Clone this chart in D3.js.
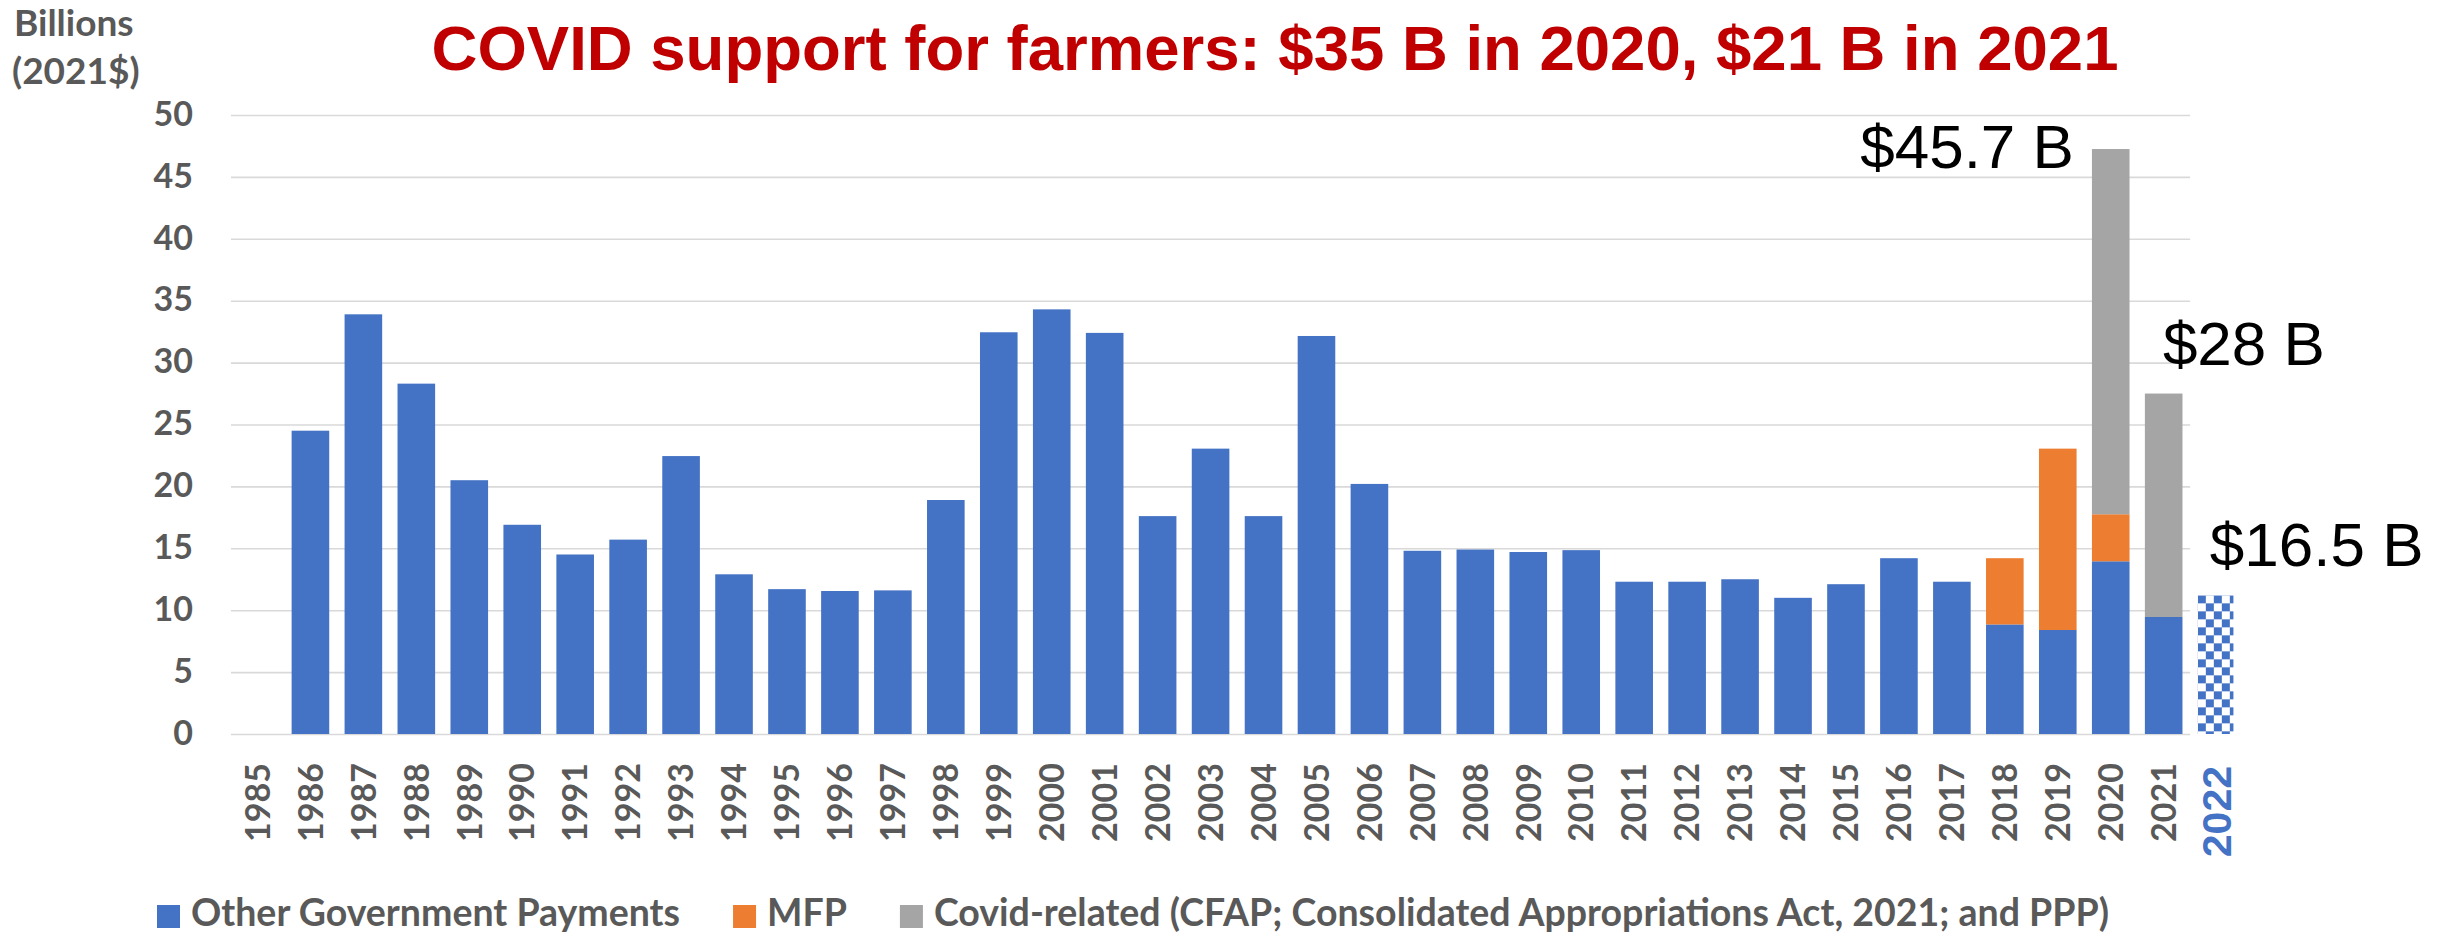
<!DOCTYPE html>
<html>
<head>
<meta charset="utf-8">
<script src="https://cdn.jsdelivr.net/npm/d3@7"></script>
<style>
  body { margin: 0; background: #fff; }
  svg text { font-family: Lato, "Open Sans", sans-serif; }
  svg text.arial { font-family: "Liberation Sans", Arial, sans-serif; }
</style>
</head>
<body>
<div id="chart"></div>
<script>
// categories on the axis (2022 is drawn as a separate projected bar)
const years = ["1985", "1986", "1987", "1988", "1989", "1990", "1991", "1992", "1993", "1994",
  "1995", "1996", "1997", "1998", "1999", "2000", "2001", "2002", "2003", "2004", "2005",
  "2006", "2007", "2008", "2009", "2010", "2011", "2012", "2013", "2014", "2015", "2016",
  "2017", "2018", "2019", "2020", "2021"];

// billions of 2021 dollars
const otherPayments = [0, 24.5, 33.9, 28.3, 20.5, 16.9, 14.5, 15.7, 22.45, 12.9,
  11.7, 11.55, 11.6, 18.9, 32.45, 34.3, 32.4, 17.6, 23.05, 17.6, 32.15,
  20.2, 14.8, 14.9, 14.7, 14.85, 12.3, 12.3, 12.5, 11.0, 12.1, 14.2,
  12.3, 8.85, 8.4, 13.95, 9.45];
const mfpPayments = [0, 0, 0, 0, 0, 0, 0, 0, 0, 0,
  0, 0, 0, 0, 0, 0, 0, 0, 0, 0, 0,
  0, 0, 0, 0, 0, 0, 0, 0, 0, 0, 0,
  0, 5.35, 14.65, 3.8, 0];
const covidPayments = [0, 0, 0, 0, 0, 0, 0, 0, 0, 0,
  0, 0, 0, 0, 0, 0, 0, 0, 0, 0, 0,
  0, 0, 0, 0, 0, 0, 0, 0, 0, 0, 0,
  0, 0, 0, 29.5, 18.05];

const projYear = "2022";
const projValue = 11.2;

const yTicks = [0, 5, 10, 15, 20, 25, 30, 35, 40, 45, 50];

const seriesKeys = ["other", "mfp", "covid"];
const seriesNames = ["Other Government Payments", "MFP",
  "Covid-related (CFAP; Consolidated Appropriations Act, 2021; and PPP)"];
const seriesColors = ["#4472C4", "#ED7D31", "#A5A5A5"];

const callouts = [
  { year: "2020", text: "$45.7 B" },
  { year: "2021", text: "$28 B" },
  { year: "2022", text: "$16.5 B" }
];

const title = "COVID support for farmers: $35 B in 2020, $21 B in 2021";

const W = 2443, H = 935;
const left = 231, step = 52.95;
const gray = "#595959";

const svg = d3.select("#chart").append("svg")
  .attr("width", W).attr("height", H);

const x = d3.scaleBand()
  .domain(years.concat([projYear]))
  .range([left, left + step * (years.length + 1)])
  .paddingInner(0.29)
  .paddingOuter(0.145);
const y = d3.scaleLinear().domain([0, 50]).range([734, 115]);
const gridEnd = left + x.step() * years.length;

// gridlines
const grid = svg.append("g")
  .attr("transform", "translate(" + left + ",0)")
  .call(d3.axisLeft(y).tickValues(yTicks).tickSize(-(gridEnd - left)).tickFormat(""));
grid.select(".domain").remove();
grid.selectAll("line").attr("stroke", "#d9d9d9").attr("stroke-width", 1.6);

// y labels
const yAxis = svg.append("g")
  .attr("transform", "translate(193,0)")
  .call(d3.axisLeft(y).tickValues(yTicks).tickSize(0).tickPadding(0));
yAxis.select(".domain").remove();
yAxis.selectAll("text")
  .attr("fill", gray).attr("font-size", 34).attr("font-weight", 700)
  .attr("dy", "0.3em");

svg.append("text").attr("x", 14).attr("y", 36)
  .attr("fill", gray).attr("font-size", 37).attr("font-weight", 700).text("Billions");
svg.append("text").attr("x", 12).attr("y", 84)
  .attr("fill", gray).attr("font-size", 37).attr("font-weight", 700).text("(2021$)");

// stacked bars
const rows = years.map((yr, i) => ({
  year: yr, other: otherPayments[i], mfp: mfpPayments[i], covid: covidPayments[i]
}));
const stacked = d3.stack().keys(seriesKeys)(rows);

svg.append("g").selectAll("g")
  .data(stacked)
  .join("g")
  .attr("fill", (d, i) => seriesColors[i])
  .selectAll("rect")
  .data(d => d.filter(p => p[1] - p[0] > 0))
  .join("rect")
  .attr("x", d => x(d.data.year))
  .attr("y", d => y(d[1]))
  .attr("width", x.bandwidth())
  .attr("height", d => y(d[0]) - y(d[1]));

// projected 2022 bar, checkerboard fill
const pat = svg.append("defs").append("pattern")
  .attr("id", "checker")
  .attr("patternUnits", "userSpaceOnUse")
  .attr("x", x(projYear)).attr("y", y(projValue))
  .attr("width", 16).attr("height", 16);
pat.append("rect").attr("width", 16).attr("height", 16).attr("fill", "#fff");
pat.append("rect").attr("width", 8).attr("height", 8).attr("fill", seriesColors[0]);
pat.append("rect").attr("x", 8).attr("y", 8).attr("width", 8).attr("height", 8).attr("fill", seriesColors[0]);

svg.append("rect")
  .attr("x", x(projYear))
  .attr("y", y(projValue))
  .attr("width", x.bandwidth() - 2)
  .attr("height", y(0) - y(projValue))
  .attr("fill", "url(#checker)");

// x labels, rotated
const xAxis = svg.append("g")
  .attr("transform", "translate(0," + y(0) + ")")
  .call(d3.axisBottom(x).tickSize(0));
xAxis.select(".domain").remove();
xAxis.selectAll("text")
  .attr("transform", "rotate(-90)")
  .attr("x", -29).attr("y", 0).attr("dy", "0.36em")
  .style("text-anchor", "end")
  .attr("fill", gray).attr("font-size", 34).attr("font-weight", 700);
xAxis.selectAll("text").filter(d => d === projYear)
  .attr("class", "arial")
  .attr("fill", seriesColors[0])
  .attr("font-size", 41)
  .attr("x", -32);

// callouts
const totals = {};
rows.forEach(r => { totals[r.year] = r.other + r.mfp + r.covid; });
totals[projYear] = projValue;
const calloutPlace = {
  "2020": { anchor: "end", dx: -18, dy: 19 },
  "2021": { anchor: "start", dx: 18, dy: -29 },
  "2022": { anchor: "start", dx: 12, dy: -29 }
};
svg.append("g").selectAll("text")
  .data(callouts)
  .join("text")
  .attr("class", "arial")
  .attr("x", d => x(d.year) + calloutPlace[d.year].dx)
  .attr("y", d => y(totals[d.year]) + calloutPlace[d.year].dy)
  .attr("text-anchor", d => calloutPlace[d.year].anchor)
  .attr("font-size", 62)
  .attr("fill", "#000")
  .text(d => d.text);

// title
svg.append("text")
  .attr("class", "arial")
  .attr("x", 1275).attr("y", 70)
  .attr("text-anchor", "middle")
  .attr("font-weight", 700).attr("font-size", 63.5)
  .attr("fill", "#C00000")
  .text(title);

// legend
const legend = svg.append("g");
let lx = 157;
seriesNames.forEach((name, i) => {
  legend.append("rect")
    .attr("x", lx).attr("y", 905).attr("width", 23).attr("height", 23)
    .attr("fill", seriesColors[i]);
  const t = legend.append("text")
    .attr("x", lx + 34).attr("y", 926)
    .attr("fill", gray).attr("font-size", 37.5).attr("font-weight", 700)
    .text(name);
  lx += 34 + t.node().getComputedTextLength() + 53;
});
</script>
</body>
</html>
